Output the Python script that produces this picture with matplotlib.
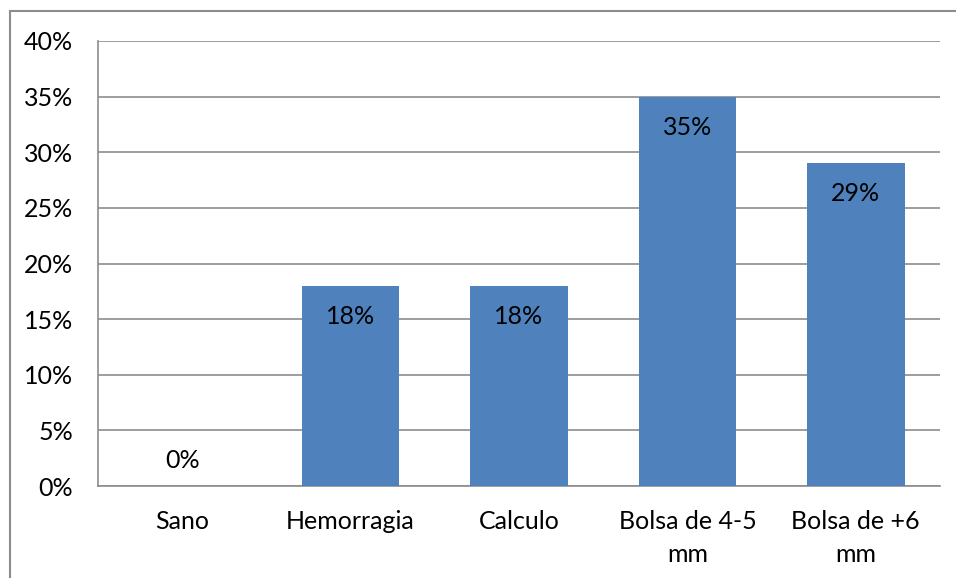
import matplotlib.pyplot as plt
from matplotlib.patches import Rectangle
from matplotlib.ticker import FuncFormatter

categories = ["Sano", "Hemorragia", "Calculo", "Bolsa de 4-5\nmm", "Bolsa de +6\nmm"]
values = [0, 18, 18, 35, 29]
yticks = [0, 5, 10, 15, 20, 25, 30, 35, 40]

BAR = "#4F81BD"
GRID = "#8C8C8C"
FS = 18

plt.rcParams['font.family'] = ['Lato', 'DejaVu Sans']

fig = plt.figure(figsize=(9.56, 5.78), dpi=100)
ax = fig.add_axes([98 / 956, 1 - 486 / 578, 842 / 956, 445 / 578])

x = range(len(categories))
ax.bar(x, values, width=0.58, color=BAR, zorder=3)
ax.set_xlim(-0.5, len(categories) - 0.5)
ax.set_ylim(0, 40)
ax.set_yticks(yticks)
ax.yaxis.set_major_formatter(FuncFormatter(lambda v, p: f"{v:.0f}%"))
ax.set_xticks(list(x))
ax.set_xticklabels(categories, linespacing=1.55, va="top")
ax.tick_params(axis="both", length=0, labelsize=FS, colors="black")
ax.tick_params(axis="y", pad=18)
ax.tick_params(axis="x", pad=17)
ax.grid(axis="y", color=GRID, linewidth=1.2, zorder=0)

for s in ["top", "right"]:
    ax.spines[s].set_visible(False)
for s in ["left", "bottom"]:
    ax.spines[s].set_color(GRID)
    ax.spines[s].set_linewidth(1.2)

# value labels sit just inside the top of each bar, above the baseline when empty
for i, v in enumerate(values):
    if v > 0:
        ax.annotate(f"{v}%", (i, v), xytext=(0, -22), textcoords="offset points",
                    ha="center", va="center", fontsize=FS)
    else:
        ax.annotate(f"{v}%", (i, v), xytext=(0, 18), textcoords="offset points",
                    ha="center", va="center", fontsize=FS)

# outer chart frame
fig.patches.append(Rectangle((10 / 956, -0.1), 1.2, 1 - 11 / 578 + 0.1,
                             transform=fig.transFigure, fill=False,
                             edgecolor="#8C8C8C", linewidth=1.5))

fig.savefig("out.png", dpi=100)
